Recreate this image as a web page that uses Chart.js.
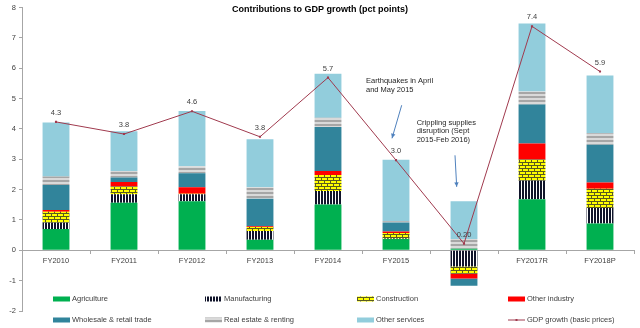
<!DOCTYPE html>
<html><head><meta charset="utf-8">
<script src="https://cdn.jsdelivr.net/npm/chart.js@4/dist/chart.umd.min.js"></script>
<style>html,body{margin:0;padding:0;background:#fff;}#wrap{width:640px;height:328px;position:relative;}canvas{display:block;}</style>
</head><body><div id="wrap"><canvas id="c" width="640" height="328"></canvas></div>
<script>
const categories = ['FY2010','FY2011','FY2012','FY2013','FY2014','FY2015','FY2016','FY2017R','FY2018P'];
const agriculture     = [0.70, 1.57, 1.62, 0.35, 1.51, 0.37, 0.05, 1.68, 0.88];
const manufacturing   = [0.21, 0.28, 0.23, 0.29, 0.44, 0.02, -0.53, 0.61, 0.51];
const construction    = [0.36, 0.25, 0.01, 0.13, 0.53, 0.18, -0.24, 0.70, 0.64];
const otherIndustry   = [0.06, 0.15, 0.22, 0.02, 0.13, 0.05, -0.16, 0.53, 0.20];
const wholesaleRetail = [0.82, 0.15, 0.46, 0.91, 1.45, 0.30, -0.24, 1.28, 1.25];
const realEstate      = [0.28, 0.21, 0.23, 0.38, 0.31, 0.04, 0.32, 0.43, 0.38];
const otherServices   = [1.78, 1.31, 1.82, 1.58, 1.45, 2.02, 1.25, 2.24, 1.90];
const gdpGrowth       = [4.23, 3.83, 4.58, 3.74, 5.69, 2.97, 0.22, 7.38, 5.89];
const gdpLabels       = ['4.3','3.8','4.6','3.8','5.7','3.0','0.20','7.4','5.9'];
const yMin = -2, yMax = 8, yStep = 1;
const titleText = 'Contributions to GDP growth (pct points)';
const seriesNames = ['Agriculture','Manufacturing','Construction','Other industry','Wholesale & retail trade','Real estate & renting','Other services','GDP growth (basic prices)'];
const annotations = [
  {idx:5, dx:-30, y:5.58, lines:['Earthquakes in April','and May 2015'], arrow:{dx1:5.7, y1:4.78, dx2:-4, y2:3.69}},
  {idx:6, dx:-47.3, y:4.21, lines:['Crippling supplies','disruption (Sept','2015-Feb 2016)'], arrow:{dx1:-9, y1:3.13, dx2:-7.3, y2:2.09}}
];

const FONT = 'Liberation Sans, Arial, sans-serif';
const canvas = document.getElementById('c');
const c2d = canvas.getContext('2d');

function makePattern(w, h, draw){
  const cv = document.createElement('canvas'); cv.width = w; cv.height = h;
  const g = cv.getContext('2d'); draw(g);
  return c2d.createPattern(cv, 'repeat');
}
const manufPattern = makePattern(3, 4, g => { g.fillStyle='#ffffff'; g.fillRect(0,0,3,4); g.fillStyle='#10142a'; g.fillRect(0,0,2,4); });
const brickPattern = makePattern(6, 6, g => {
  g.fillStyle='#ffff00'; g.fillRect(0,0,6,6);
  g.fillStyle='#5a5a20';
  g.fillRect(0,0,6,1); g.fillRect(0,3,6,1);
  g.fillRect(0,0,1,3); g.fillRect(3,3,1,3);
});
const realPattern = makePattern(1, 4, g => { g.fillStyle='#d9d9d9'; g.fillRect(0,0,1,4); g.fillStyle='#a6a6a6'; g.fillRect(0,0,1,2); });

const barSeries = [agriculture, manufacturing, construction, otherIndustry, wholesaleRetail, realEstate, otherServices];
const barColors = ['#00b050', manufPattern, brickPattern, '#ff0000', '#31849b', realPattern, '#92cddc'];

const datasets = barSeries.map((d, i) => ({
  type:'bar', label: seriesNames[i], data: d, backgroundColor: barColors[i],
  borderWidth: 0, stack: 'sectors', order: 1,
  barPercentage: 0.395, categoryPercentage: 1.0
}));
datasets.push({
  type:'line', label: seriesNames[7], data: gdpGrowth, stack:'gdp', order: 0,
  borderColor:'#a03a4e', backgroundColor:'#a03a4e', borderWidth:1,
  pointRadius:1.5, pointStyle:'rect', pointBackgroundColor:'#a03a4e', pointBorderWidth:0,
  tension:0, fill:false
});

const overlay = {
  id:'overlay',
  afterDraw(chart){
    const ctx = chart.ctx, xs = chart.scales.x, ys = chart.scales.y;
    ctx.save();
    // title
    ctx.fillStyle = '#000'; ctx.font = 'bold 9px ' + FONT;
    ctx.textAlign = 'center'; ctx.textBaseline = 'middle';
    ctx.fillText(titleText, 320, 10);
    // gdp labels
    const meta = chart.getDatasetMeta(datasets.length - 1);
    ctx.font = '7.5px ' + FONT; ctx.fillStyle = '#404040';
    meta.data.forEach((pt, i) => { ctx.fillText(gdpLabels[i], pt.x, pt.y - 9); });
    // annotations
    annotations.forEach(a => {
      const x0 = xs.getPixelForValue(a.idx);
      ctx.fillStyle = '#262626'; ctx.textAlign = 'left'; ctx.font = '7.5px ' + FONT;
      const y0 = ys.getPixelForValue(a.y);
      a.lines.forEach((t, k) => ctx.fillText(t, x0 + a.dx, y0 + k * 8.8));
      const ax1 = x0 + a.arrow.dx1, ay1 = ys.getPixelForValue(a.arrow.y1);
      const ax2 = x0 + a.arrow.dx2, ay2 = ys.getPixelForValue(a.arrow.y2);
      ctx.strokeStyle = '#4f81bd'; ctx.fillStyle = '#4f81bd'; ctx.lineWidth = 1;
      ctx.beginPath(); ctx.moveTo(ax1, ay1); ctx.lineTo(ax2, ay2); ctx.stroke();
      const ang = Math.atan2(ay2 - ay1, ax2 - ax1), L = 4.5, W = 2.2;
      ctx.beginPath(); ctx.moveTo(ax2, ay2);
      ctx.lineTo(ax2 - L*Math.cos(ang) + W*Math.sin(ang), ay2 - L*Math.sin(ang) - W*Math.cos(ang));
      ctx.lineTo(ax2 - L*Math.cos(ang) - W*Math.sin(ang), ay2 - L*Math.sin(ang) + W*Math.cos(ang));
      ctx.closePath(); ctx.fill();
    });
    // legend
    const colX = [53, 205, 357, 508], rowY = [299, 320];
    ctx.font = '7.5px ' + FONT; ctx.textAlign = 'left'; ctx.textBaseline = 'middle';
    chart.data.datasets.forEach((ds, i) => {
      const col = i % 4, row = Math.floor(i / 4);
      const x = colX[col], y = rowY[row];
      if (ds.type === 'line') {
        ctx.strokeStyle = ds.borderColor; ctx.lineWidth = 1;
        ctx.beginPath(); ctx.moveTo(x, y); ctx.lineTo(x + 17, y); ctx.stroke();
        ctx.fillStyle = ds.borderColor; ctx.fillRect(x + 7.5, y - 1, 2, 2);
      } else {
        ctx.fillStyle = ds.backgroundColor; ctx.fillRect(x, y - 2.5, 17, 5);
      }
      ctx.fillStyle = '#404040';
      ctx.fillText(ds.label, x + 19, y);
    });
    ctx.restore();
  }
};

new Chart(canvas, {
  data: { labels: categories, datasets },
  options: {
    responsive:false, animation:false, devicePixelRatio:1,
    layout:{ padding:{ left:0, right:6, top:7, bottom:17 } },
    plugins:{ legend:{ display:false }, tooltip:{ enabled:false }, title:{ display:false } },
    scales:{
      x:{
        stacked:true, position:{ y:0 },
        grid:{ display:true, drawOnChartArea:false, drawTicks:true, tickLength:3, color:'#a6a6a6', offset:true },
        border:{ color:'#a6a6a6' },
        ticks:{ font:{ family:FONT, size:7.5 }, color:'#404040', padding:3, maxRotation:0, autoSkip:false },
        afterFit(s){ s.height = 0; }
      },
      y:{
        stacked:true, min:yMin, max:yMax,
        ticks:{ stepSize:yStep, font:{ family:FONT, size:7.5 }, color:'#404040', padding:3 },
        grid:{ drawOnChartArea:false, drawTicks:true, tickLength:3, color:'#a6a6a6' },
        border:{ color:'#a6a6a6' },
        afterFit(s){ s.width = 22; }
      }
    }
  },
  plugins:[overlay]
});
</script>
</body></html>
